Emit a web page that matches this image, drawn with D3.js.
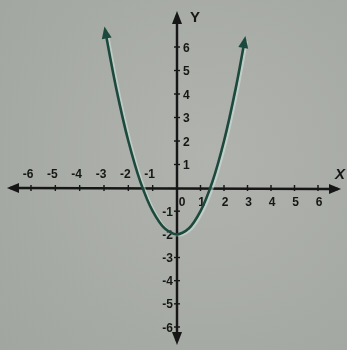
<!DOCTYPE html>
<html>
<head>
<meta charset="utf-8">
<script src="https://cdn.jsdelivr.net/npm/d3@7"></script>
<style>
  html, body { margin: 0; padding: 0; background: #a8aca6; }
  svg { display: block; }
  text { font-family: "Liberation Sans", Arial, sans-serif; font-weight: bold; fill: #161816; }
</style>
</head>
<body>
<svg id="chart" width="347" height="350"></svg>
<script>
// Sampled points of the parabola y = x^2 - 2
const curveX = [-2.95, -2.5, -2, -1.5, -1, -0.5, 0, 0.5, 1, 1.5, 2, 2.5, 2.88];
const curveY = [6.7, 4.25, 2, 0.25, -1, -1.75, -2, -1.75, -1, 0.25, 2, 4.25, 6.3];
const xTicks = [-6, -5, -4, -3, -2, -1, 1, 2, 3, 4, 5, 6];
const yTicks = [-6, -5, -4, -3, -2, -1, 1, 2, 3, 4, 5, 6];

const svg = d3.select("#chart");
const W = 347, H = 350;

const x = d3.scaleLinear().domain([-6, 0, 6]).range([31, 177, 318]);
const y = d3.scaleLinear().domain([-6, 0, 6]).range([327, 188, 47]);

// paper background with slight shading
const defs = svg.append("defs");
const grad = defs.append("radialGradient").attr("id", "paper")
  .attr("cx", "60%").attr("cy", "45%").attr("r", "80%");
grad.append("stop").attr("offset", "0%").attr("stop-color", "#b1b3ae");
grad.append("stop").attr("offset", "100%").attr("stop-color", "#a1a6a0");
defs.append("filter").attr("id", "soft")
  .append("feGaussianBlur").attr("stdDeviation", 0.45);

svg.append("rect").attr("width", W).attr("height", H).attr("fill", "url(#paper)");

const g = svg.append("g").attr("filter", "url(#soft)");
const ink = "#141614";

// arrowhead helper
function arrowHead(tipX, tipY, angle, len, half, color) {
  const bx = tipX - len * Math.cos(angle), by = tipY - len * Math.sin(angle);
  const px = -Math.sin(angle) * half, py = Math.cos(angle) * half;
  g.append("path")
    .attr("d", `M${tipX},${tipY}L${bx + px},${by + py}L${bx - px},${by - py}Z`)
    .attr("fill", color);
}

// x axis
const x0 = x(0), y0 = y(0);
g.append("line").attr("x1", 10).attr("x2", 338).attr("y1", y0).attr("y2", y0 + 1)
  .attr("stroke", ink).attr("stroke-width", 2.4);
arrowHead(7, y0, Math.PI, 12, 5, ink);
arrowHead(341, y0 + 1, 0, 12, 5, ink);

// y axis
g.append("line").attr("x1", x0).attr("x2", x0).attr("y1", 16).attr("y2", 340)
  .attr("stroke", ink).attr("stroke-width", 2.4);
arrowHead(x0, 11, -Math.PI / 2, 13, 5, ink);
arrowHead(x0, 345, Math.PI / 2, 13, 5, ink);

// x ticks and labels
xTicks.forEach(v => {
  const px = x(v);
  g.append("line").attr("x1", px).attr("x2", px).attr("y1", y0 - 3).attr("y2", y0 + 3)
    .attr("stroke", ink).attr("stroke-width", 1.4);
  g.append("text").attr("x", v < 0 ? px - 3 : px + 1)
    .attr("y", v < 0 ? y0 - 10 : y0 + 18)
    .attr("text-anchor", "middle").attr("font-size", 12).text(v);
});
g.append("text").attr("x", x0 + 5).attr("y", y0 + 18).attr("text-anchor", "middle")
  .attr("font-size", 12).text("0");

// y ticks and labels
yTicks.forEach(v => {
  const py = y(v);
  g.append("line").attr("x1", x0 - 3).attr("x2", x0 + 3).attr("y1", py).attr("y2", py)
    .attr("stroke", ink).attr("stroke-width", 1.4);
  g.append("text").attr("x", v > 0 ? x0 + 6 : x0 - 4)
    .attr("y", py + 4.5)
    .attr("text-anchor", v > 0 ? "start" : "end").attr("font-size", 12).text(v);
});

// axis titles
g.append("text").attr("x", 195).attr("y", 22).attr("text-anchor", "middle")
  .attr("font-size", 15).text("Y");
g.append("text").attr("x", 340).attr("y", 179).attr("text-anchor", "middle")
  .attr("font-size", 15).attr("font-style", "italic").attr("font-weight", "normal").text("X");

// parabola
const pts = curveX.map((v, i) => [x(v), y(curveY[i])]);
const line = d3.line().curve(d3.curveCatmullRom.alpha(0.5));
g.append("path").attr("d", line(pts)).attr("fill", "none")
  .attr("stroke", "#d6ebe4").attr("stroke-width", 2.5).attr("opacity", 0.5)
  .attr("transform", "translate(2,1)");
const green = "#1f4a3d";
g.append("path").attr("d", line(pts)).attr("fill", "none")
  .attr("stroke", green).attr("stroke-width", 2.6);

// arrowheads at both ends of the curve
const n = pts.length;
const aL = Math.atan2(pts[0][1] - pts[1][1], pts[0][0] - pts[1][0]);
arrowHead(pts[0][0] + 4 * Math.cos(aL), pts[0][1] + 4 * Math.sin(aL), aL, 12, 5, green);
const aR = Math.atan2(pts[n - 1][1] - pts[n - 2][1], pts[n - 1][0] - pts[n - 2][0]);
arrowHead(pts[n - 1][0] + 4 * Math.cos(aR), pts[n - 1][1] + 4 * Math.sin(aR), aR, 12, 5, green);
</script>
</body>
</html>
